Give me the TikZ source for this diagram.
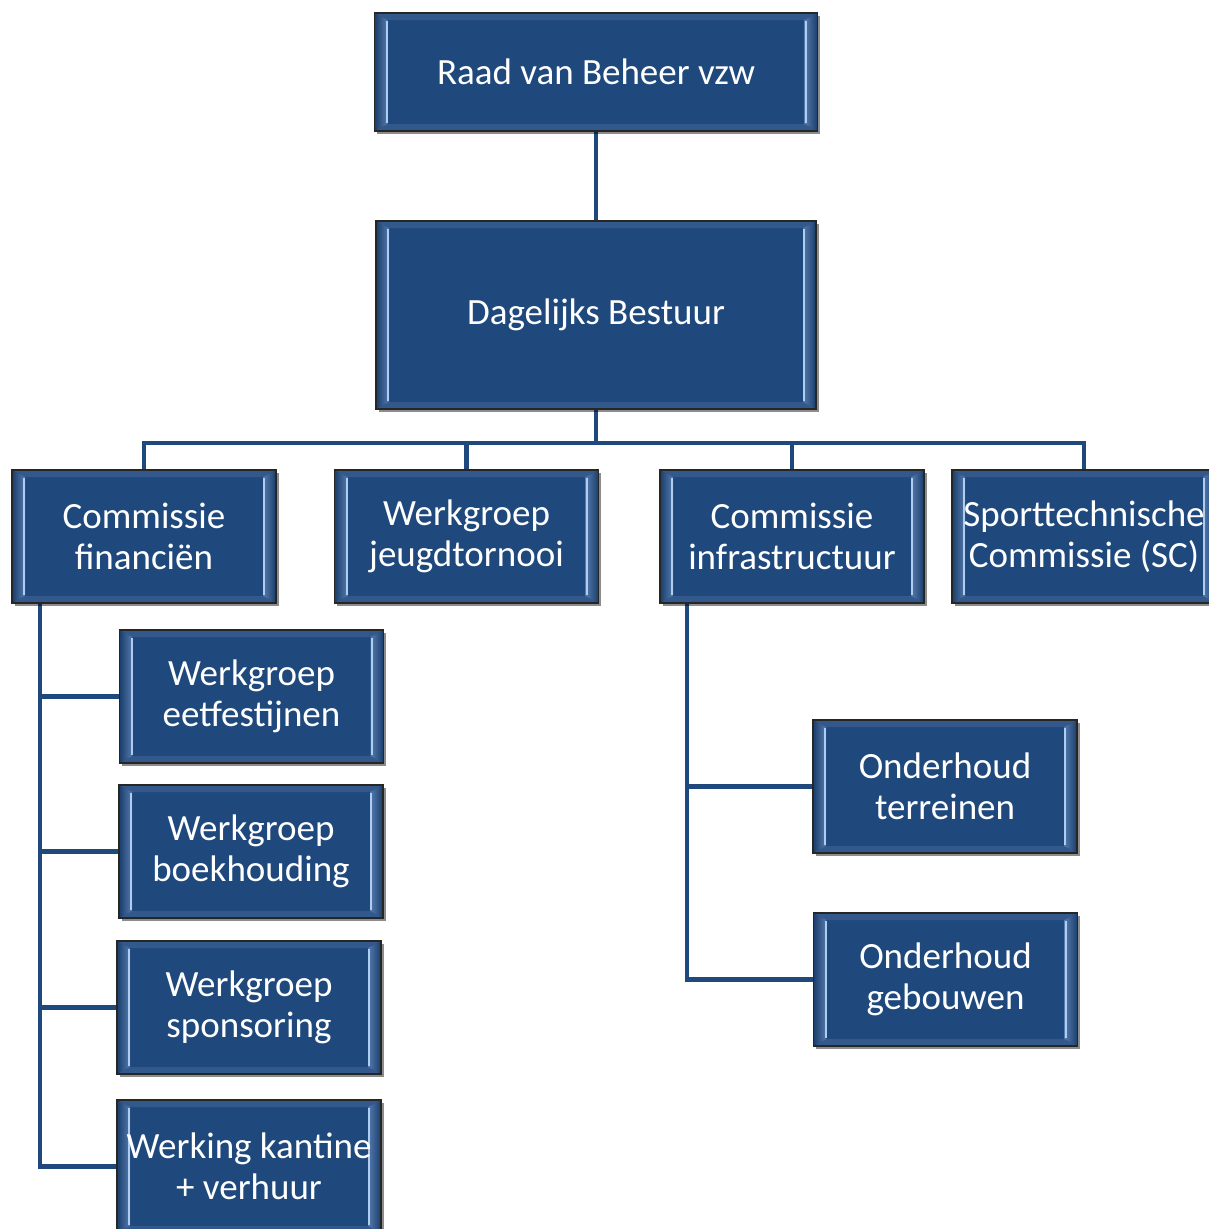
\documentclass[tikz,border=0pt]{standalone}
\usepackage{fontspec}
\setmainfont{Carlito}
\usetikzlibrary{shadows,backgrounds}
\definecolor{boxblue}{RGB}{31,73,125}
\definecolor{bevside}{RGB}{84,122,174}
\definecolor{bevhi}{RGB}{176,204,238}
\definecolor{bevtop}{RGB}{50,88,140}
\newcommand\bevelbox{%
\coordinate (bnw) at (path picture bounding box.north west);
\coordinate (bne) at (path picture bounding box.north east);
\coordinate (bsw) at (path picture bounding box.south west);
\coordinate (bse) at (path picture bounding box.south east);
\fill[bevtop] (bnw)--(bne)--([shift={(-13pt,-7pt)}]bne)--([shift={(13pt,-7pt)}]bnw)--cycle;
\fill[bevtop] (bsw)--(bse)--([shift={(-13pt,7pt)}]bse)--([shift={(13pt,7pt)}]bsw)--cycle;
\shade[left color=boxblue!85!black,right color=bevside] (bnw)--([shift={(13pt,-7pt)}]bnw)--([shift={(13pt,7pt)}]bsw)--(bsw)--cycle;
\shade[left color=bevside,right color=boxblue!85!black] (bne)--([shift={(-13pt,-7pt)}]bne)--([shift={(-13pt,7pt)}]bse)--(bse)--cycle;
\draw[bevhi,line width=2pt] ([shift={(12pt,-8pt)}]bnw)--([shift={(12pt,8pt)}]bsw);
\draw[bevhi,line width=2pt] ([shift={(-12pt,-8pt)}]bne)--([shift={(-12pt,8pt)}]bse);}

\begin{document}
\begin{tikzpicture}[x=1pt,y=-1pt,
  orgbox/.style={draw=black!85,line width=1.3pt,fill=boxblue,text=white,align=center,
    inner sep=0pt,minimum width=264pt,minimum height=133pt,
    font=\fontsize{37}{41}\selectfont,path picture={\bevelbox},
    drop shadow={shadow xshift=2.5pt,shadow yshift=-2.5pt,opacity=.45,fill=black}},
  conn/.style={draw=boxblue,line width=4.2pt}]
\useasboundingbox (0,0) rectangle (1209,1229);
\clip (0,0) rectangle (1209,1229);

\node[orgbox,minimum width=443pt,minimum height=118pt](raad) at (596,72){Raad van Beheer vzw};
\node[orgbox,minimum width=440pt,minimum height=188pt](db) at (596,315){Dagelijks Bestuur};
\node[orgbox](cf) at (144,536.5){Commissie\\financiën};
\node[orgbox](wj) at (466.5,536.5){Werkgroep\\jeugdtornooi};
\node[orgbox](ci) at (792,536.5){Commissie\\infrastructuur};
\node[orgbox](sc) at (1084,536.5){Sporttechnische\\Commissie (SC)};
\node[orgbox](we) at (251.5,696.5){Werkgroep\\eetfestijnen};
\node[orgbox](wb) at (251,851.5){Werkgroep\\boekhouding};
\node[orgbox](ws) at (249,1007.5){Werkgroep\\sponsoring};
\node[orgbox](wk) at (249,1166.5){Werking kantine\\+ verhuur};
\node[orgbox](ot) at (945,786.5){Onderhoud\\terreinen};
\node[orgbox](og) at (945.5,979.5){Onderhoud\\gebouwen};

\coordinate (bus) at (596,443);
\coordinate (lspine) at (40,1166.5);
\coordinate (rspine) at (687,979.5);

\begin{scope}[on background layer]
\draw[conn](raad)--(db);
\draw[conn](db)--(bus);
\draw[conn](cf)|-(bus)-|(sc);
\draw[conn](wj)--(wj|-bus);
\draw[conn](ci)--(ci|-bus);
\draw[conn](cf.south-|lspine)--(lspine)--(wk);
\draw[conn](we)--(we-|lspine);
\draw[conn](wb)--(wb-|lspine);
\draw[conn](ws)--(ws-|lspine);
\draw[conn](ci.south-|rspine)--(rspine)--(og);
\draw[conn](ot)--(ot-|rspine);
\end{scope}
\end{tikzpicture}
\end{document}
